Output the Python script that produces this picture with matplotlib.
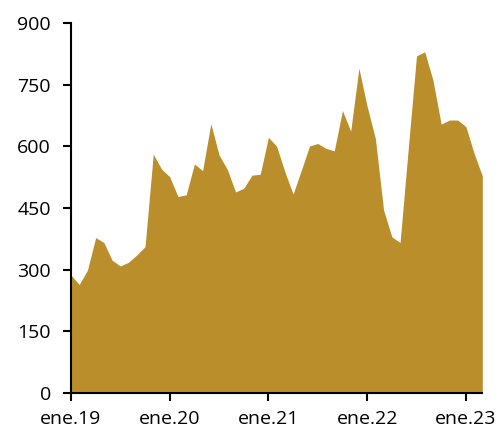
import matplotlib
matplotlib.use("Agg")
import matplotlib.pyplot as plt
import numpy as np

plt.rcParams['font.family'] = ['Open Sans', 'DejaVu Sans']

# monthly values, ene.19 .. mar.23
values = [287, 264, 299, 378, 366, 323, 309, 318, 336, 356,
          581, 545, 526, 478, 482, 557, 541, 655, 579, 544,
          489, 498, 530, 532, 622, 600, 538, 484, 542, 601,
          607, 595, 589, 687, 637, 790, 697, 619, 445, 380,
          366, 595, 820, 830, 761, 654, 664, 664, 648, 583,
          528]
tick_labels = ['ene.19', 'ene.20', 'ene.21', 'ene.22', 'ene.23']
y_ticks = [0, 150, 300, 450, 600, 750, 900]

months = np.arange(len(values))
color = '#BA8E2B'

fig = plt.figure(figsize=(5.01, 4.30), dpi=100)
ax = fig.add_axes([0.1417, 0.0860, 0.821, 0.8605])

ax.fill_between(months, values, 0, color=color, linewidth=0)

ax.set_xlim(0, len(values) - 1)
ax.set_ylim(0, 900)
ax.set_xticks(np.arange(0, len(values), 12))
ax.set_xticklabels(tick_labels)
ax.set_yticks(y_ticks)

for s in ['top', 'right']:
    ax.spines[s].set_visible(False)
for s in ['left', 'bottom']:
    ax.spines[s].set_linewidth(1.5)
ax.tick_params(direction='out', length=6, width=1.5, labelsize=14, pad=8.5)
ax.tick_params(axis='x', pad=6.5)

fig.savefig('out.png', dpi=100)
